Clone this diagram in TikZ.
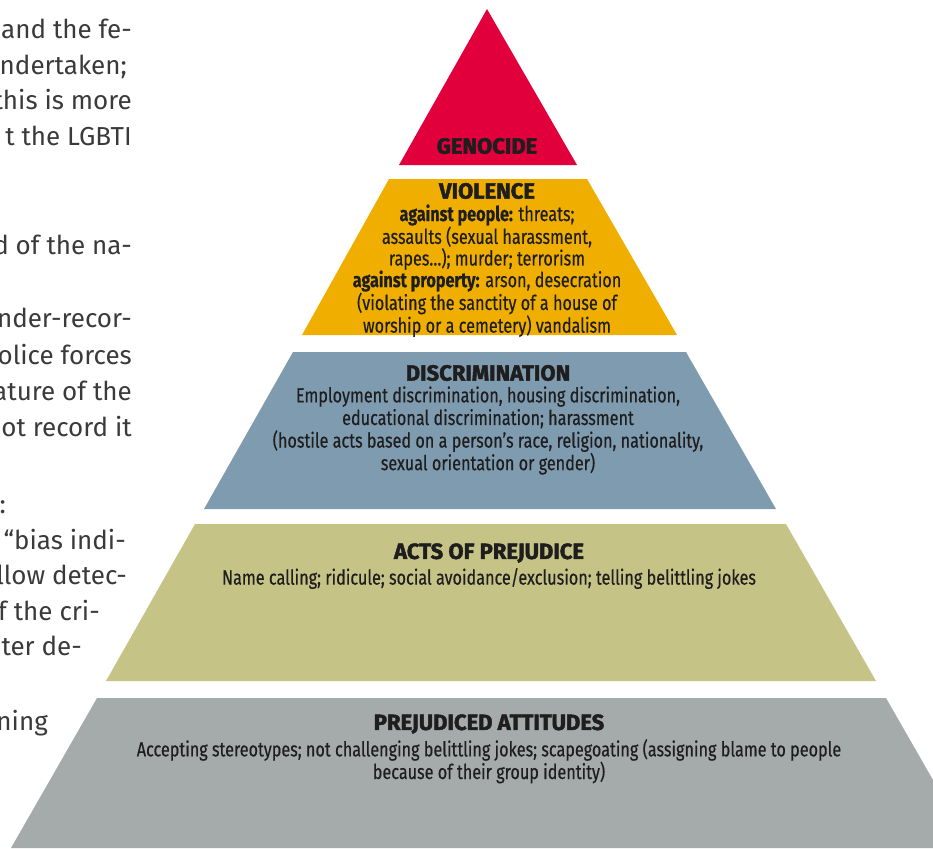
\documentclass[tikz,border=0pt]{standalone}
\usepackage{fontspec}
\setmainfont{Fira Sans}
\newfontfamily\pyrfont[FakeStretch=0.79,FakeBold=0.4]{Fira Sans}
\newfontfamily\headfont[BoldFeatures={FakeBold=2}]{Fira Sans}
\usetikzlibrary{positioning}
\definecolor{Geno}{HTML}{E2003C}
\definecolor{Viol}{HTML}{F0AE00}
\definecolor{Discr}{HTML}{7F9BAF}
\definecolor{Acts}{HTML}{C6C387}
\definecolor{Attit}{HTML}{A5AAAA}
\definecolor{Ink}{HTML}{1E1E1E}
\definecolor{Prose}{HTML}{3A3A3A}

\begin{document}
\begin{tikzpicture}[x=1pt, y=-1pt, node distance=5pt,
  head/.style={font=\headfont\bfseries\fontsize{22}{22}\selectfont, text=Ink, inner sep=0pt},
  body/.style={font=\pyrfont\fontsize{20.5}{22.6}\selectfont, text=Ink, align=center, inner sep=0pt},
  col/.style={font=\fontsize{26}{35}\selectfont, text=Prose, anchor=mid east, inner sep=0pt} ]

\useasboundingbox (0,0) rectangle (933,848);
\clip (0,0) rectangle (933,848);

% pyramid layers
\fill[Geno] (487,9) -- (577,165) -- (399,165) -- cycle;
\fill[Viol] (389,179) -- (587,179) -- (677,335) -- (302,335) -- cycle;
\fill[Discr] (293,352) -- (686,352) -- (776,509) -- (204,509) -- cycle;
\fill[Acts] (195,524) -- (786,524) -- (876,681) -- (106,681) -- cycle;
\fill[Attit] (97,698) -- (886,698) -- (972,848) -- (11,848) -- cycle;

\node[head] (gen) at (487,146) {GENOCIDE};

\node[head] (vio) at (487,191) {VIOLENCE};
\node[body, below=of vio, font=\pyrfont\fontsize{20.5}{21.6}\selectfont] (viotxt) {\textbf{against people:} threats;\\ assaults (sexual harassment,\\ rapes…); murder; terrorism\\ \textbf{against property:} arson, desecration\\ (violating the sanctity of a house of\\ worship or a cemetery) vandalism};

\node[head] (dis) at (488,373) {DISCRIMINATION};
\node[body, below=of dis] (distxt) {Employment discrimination, housing discrimination,\\ educational discrimination; harassment\\ (hostile acts based on a person’s race, religion, nationality,\\ sexual orientation or gender)};

\node[head] (act) at (489,553) {ACTS OF PREJUDICE};
\node[body, below=of act] (acttxt) {Name calling; ridicule; social avoidance/exclusion; telling belittling jokes};

\node[head] (att) at (489,724) {PREJUDICED ATTITUDES};
\node[body, below=of att] (atttxt) {Accepting stereotypes; not challenging belittling jokes; scapegoating (assigning blame to people\\ because of their group identity)};

% article text, cut at the left edge
\node[col] (l1) at (132,36) {and the fe-};
\node[col] (l2) at (127,72) {ndertaken;};
\node[col] (l3) at (132,107) {this is more};
\node[col] (l4) at (132,143) {t the LGBTI};
\node[col] (l5) at (132,252) {d of the na-};
\node[col] (l6) at (132,325) {nder-recor-};
\node[col] (l7) at (132,362) {olice forces};
\node[col] (l8) at (132,398) {ature of the};
\node[col] (l9) at (132,434) {ot record it};
\node[col] (l10) at (6,511) {:};
\node[col] (l11) at (126,547) {d “bias indi-};
\node[col] (l12) at (127,582) {llow detec-};
\node[col] (l13) at (100,618) {of the cri-};
\node[col] (l14) at (82,653) {nter de-};
\node[col] (l15) at (48,728) {ning};

\end{tikzpicture}
\end{document}
